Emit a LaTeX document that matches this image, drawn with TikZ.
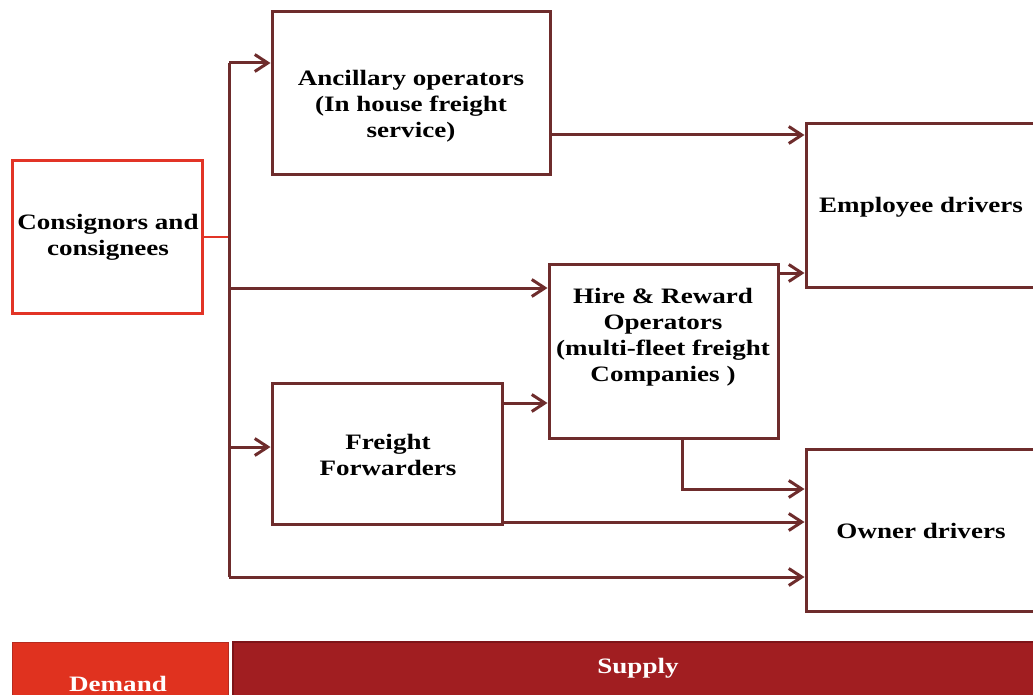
\documentclass[tikz,border=0pt]{standalone}
\usepackage{fontspec}
\setmainfont{Liberation Serif}[FakeStretch=1.23]
\usetikzlibrary{arrows.meta}
\definecolor{lin}{RGB}{110,44,44}
\definecolor{redbox}{RGB}{226,52,38}
\definecolor{dembar}{RGB}{224,50,31}
\definecolor{supbar}{RGB}{161,30,33}
\definecolor{supedge}{RGB}{125,20,24}
\begin{document}
\begin{tikzpicture}[x=1pt,y=-1pt,
  box/.style={draw=lin,line width=3pt,rectangle,inner sep=0pt},
  redb/.style={draw=redbox,line width=3pt,rectangle,inner sep=0pt},
  txt/.style={font=\fontsize{22}{26}\selectfont\bfseries,align=center,text=black,inner sep=0pt},
  bartxt/.style={font=\fontsize{22}{26}\selectfont\bfseries,text=white,inner sep=0pt},
  conn/.style={draw=lin,line width=3pt},
  arr/.style={conn,-{Straight Barb[length=13pt,width=17pt]}}]
\useasboundingbox (0,0) rectangle (1033,695);
% boxes
\node[redb,minimum width=190,minimum height=152] (cons) at (107,237) {};
\node[box,minimum width=278,minimum height=163] (anc) at (411,93.5) {};
\node[box,minimum width=229,minimum height=174] (hire) at (663.5,351) {};
\node[box,minimum width=230,minimum height=141] (ff) at (387,453.5) {};
\node[box,minimum width=254,minimum height=163] (emp) at (933,205.5) {};
\node[box,minimum width=254,minimum height=162] (own) at (933,530) {};
% bars
\node[fill=dembar,draw=redbox!80!black,line width=1pt,minimum width=216,minimum height=60,inner sep=0pt] (dem) at (120,672) {};
\node[fill=supbar,draw=supedge,line width=1.5pt,minimum width=810,minimum height=60,inner sep=0pt] (sup) at (638,672) {};
% texts
\node[txt] (cons-t) at (108,237) {Consignors and\\consignees};
\node[txt] (anc-t) at (411,106) {Ancillary operators\\(In house freight\\service)};
\node[txt] (hire-t) at (663,337) {Hire \& Reward\\Operators\\(multi-fleet freight\\Companies )};
\node[txt] (ff-t) at (388,455) {Freight\\Forwarders};
\node[txt] (emp-t) at (921,207) {Employee drivers};
\node[txt] (own-t) at (921,531) {Owner drivers};
\node[bartxt] (dem-t) at (118,684) {Demand};
\node[bartxt] (sup-t) at (638,668) {Supply};
% trunk coordinates
\coordinate (ttop) at (229,63);
\coordinate (tcons) at (229,237);
\coordinate (thire) at (229,288);
\coordinate (tff) at (229,447);
\coordinate (tbot) at (229,577);
\coordinate (y135) at (0,135);
\coordinate (y273) at (0,273);
\coordinate (y403) at (0,403);
\coordinate (y522) at (0,522);
\coordinate (hbx) at (682,0);
\coordinate (y489) at (0,489);
% connectors
\draw[draw=redbox,line width=1.5pt] (cons.east) -- (tcons);
\draw[conn] (ttop) -- (tbot);
\draw[arr] (ttop) -- (ttop -| anc.west);
\draw[arr] (thire) -- (thire -| hire.west);
\draw[arr] (tff) -- (tff -| ff.west);
\draw[arr] (tbot) -- (tbot -| own.west);
\draw[arr] (anc.east |- y135) -- (emp.west |- y135);
\draw[arr] (hire.east |- y273) -- (emp.west |- y273);
\draw[arr] (ff.east |- y403) -- (hire.west |- y403);
\draw[arr] (ff.east |- y522) -- (own.west |- y522);
\draw[arr] (hbx |- hire.south) -- (hbx |- y489) -- (own.west |- y489);
\end{tikzpicture}
\end{document}
